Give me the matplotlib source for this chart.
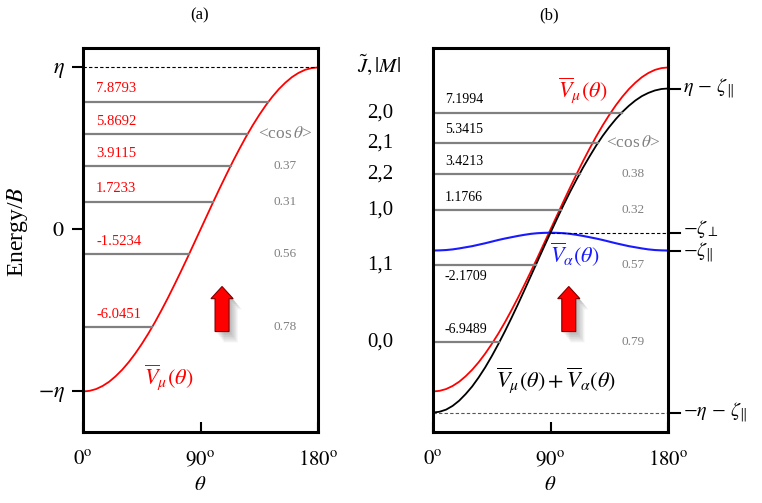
import numpy as np
import matplotlib.pyplot as plt
import matplotlib.transforms as mtransforms
from matplotlib.patches import FancyArrow

plt.rcParams['font.family'] = ['Liberation Serif', 'DejaVu Serif']
plt.rcParams['mathtext.fontset'] = 'stix'

# potential curves, theta in degrees (5 degree steps)
theta = list(range(0, 181, 5))
v_mu = [-10.00, -9.96, -9.85, -9.66, -9.40, -9.06, -8.66, -8.19, -7.66, -7.07,
        -6.43, -5.74, -5.00, -4.23, -3.42, -2.59, -1.74, -0.87, 0.00,
        0.87, 1.74, 2.59, 3.42, 4.23, 5.00, 5.74, 6.43, 7.07, 7.66,
        8.19, 8.66, 9.06, 9.40, 9.66, 9.85, 9.96, 10.00]
v_alpha = [-1.30, -1.29, -1.27, -1.23, -1.17, -1.10, -1.03, -0.94, -0.85, -0.75,
           -0.65, -0.56, -0.48, -0.40, -0.33, -0.27, -0.23, -0.21, -0.20,
           -0.21, -0.23, -0.27, -0.33, -0.40, -0.48, -0.56, -0.65, -0.75, -0.85,
           -0.94, -1.03, -1.10, -1.17, -1.23, -1.27, -1.29, -1.30]

# energy levels and <cos theta>
levels_a = [7.8793, 5.8692, 3.9115, 1.7233, -1.5234, -6.0451]
levels_b = [7.1994, 5.3415, 3.4213, 1.1766, -2.1709, -6.9489]
cos_a = [0.37, 0.31, 0.56, 0.78]
cos_b = [0.38, 0.32, 0.57, 0.79]
states = ['2,0', '2,1', '2,2', '1,0', '1,1', '0,0']

eta = 10.0
zeta_par = 1.30
zeta_perp = 0.20

theta = np.array(theta)
v_mu = np.array(v_mu)
v_sum = v_mu + np.array(v_alpha)

RED = '#ff0000'
BLUE = '#1a1aff'
GRAY = '#808080'
YLIM = (-12.5, 11.2)

fig = plt.figure(figsize=(7.62, 5.03), dpi=100)
ax_a = fig.add_axes([83 / 762, 71 / 503, 235 / 762, 384 / 503])
ax_b = fig.add_axes([433 / 762, 71 / 503, 235 / 762, 384 / 503])

for ax in (ax_a, ax_b):
    ax.set_xlim(0, 180)
    ax.set_ylim(*YLIM)
    for s in ax.spines.values():
        s.set_linewidth(2.2)
    ax.set_xticks([0, 90, 180])
    ax.set_xticklabels([r'$0^{\rm o}$', r'$90^{\rm o}$', r'$180^{\rm o}$'])
    ax.tick_params(axis='x', direction='in', length=7, width=1.5, pad=14, labelsize=15)
    ax.set_xlabel(r'$\theta$', fontsize=15, labelpad=4)


def arrow(ax, x):
    # soft grey shadow, then the red arrow
    for k in range(1, 7):
        ax.add_patch(FancyArrow(x + 1.1 * k, -6.3 - 0.11 * k, 0, 2.78, width=10.7,
                                head_width=17, head_length=0.75, length_includes_head=True,
                                color='#505050', alpha=0.08, lw=0))
    ax.add_patch(FancyArrow(x, -6.3, 0, 2.78, width=10.7, head_width=17, head_length=0.75,
                            length_includes_head=True, facecolor=RED, edgecolor='#7a0000', lw=0.8))


# ---- panel (a)
ax_a.plot(theta, v_mu, color=RED, lw=1.3)
ax_a.plot([0, 180], [eta, eta], color='black', lw=0.8, ls=(0, (3, 2)))
for i, e in enumerate(levels_a):
    x_end = np.interp(e, v_mu, theta)
    ax_a.plot([0, x_end], [e, e], color=GRAY, lw=1.6)
    ax_a.text(10, e + 0.8, f'{e:.4f}', color=RED, fontsize=10.5, ha='left', va='center')
ax_a.text(155, levels_a[1], r'<cos$\,\theta$>', color=GRAY, fontsize=12.5, ha='center', va='center')
for c, e in zip(cos_a, levels_a[2:]):
    ax_a.text(155, e, f'{c:.2f}', color=GRAY, fontsize=9.5, ha='center', va='center')
ax_a.text(66, -9.1, r'$\overline{V}_{\mu}(\theta)$', color=RED, fontsize=16, ha='center', va='center')
arrow(ax_a, 106.5)

ax_a.set_yticks([eta, 0, -eta])
ax_a.set_yticklabels([r'$\eta$', r'$0$', r'$-\eta$'])
ax_a.tick_params(axis='y', direction='out', length=8, width=1.5, pad=5, labelsize=16)

# ---- panel (b)
ax_b.plot(theta, v_mu, color=RED, lw=1.3)
ax_b.plot(theta, v_alpha, color=BLUE, lw=1.5)
ax_b.plot(theta, v_sum, color='black', lw=1.3)
ax_b.plot([90, 180], [-zeta_perp, -zeta_perp], color='black', lw=0.8, ls=(0, (3, 2)))
ax_b.plot([0, 180], [-eta - zeta_par, -eta - zeta_par], color='#555555', lw=0.8, ls=(0, (3, 2)))
for i, e in enumerate(levels_b):
    x_end = np.interp(e, v_sum, theta)
    ax_b.plot([0, x_end], [e, e], color=GRAY, lw=1.6)
    dy = -0.75 if i == 4 else 0.8
    ax_b.text(9, e + dy, f'{e:.4f}', color='black', fontsize=10, ha='left', va='center')
ax_b.text(153, levels_b[1], r'<cos$\,\theta$>', color=GRAY, fontsize=12.5, ha='center', va='center')
for c, e in zip(cos_b, levels_b[2:]):
    ax_b.text(153, e, f'{c:.2f}', color=GRAY, fontsize=9.5, ha='center', va='center')
ax_b.text(115, 8.6, r'$\overline{V}_{\mu}(\theta)$', color=RED, fontsize=16, ha='center', va='center')
ax_b.text(109, -1.55, r'$\overline{V}_{\alpha}(\theta)$', color=BLUE, fontsize=16, ha='center', va='center')
ax_b.text(94, -9.3, r'$\overline{V}_{\mu}(\theta)+\overline{V}_{\alpha}(\theta)$', color='black',
          fontsize=16, ha='center', va='center')
arrow(ax_b, 104)
ax_b.set_yticks([])

right_labels = [(eta - zeta_par, 0.0, r'$\eta\,-\,\zeta_{\Vert}$'),
                (-zeta_perp, 0.25, r'$-\zeta_{\perp}$'),
                (-zeta_par, -0.15, r'$-\zeta_{\Vert}$'),
                (-eta - zeta_par, 0.0, r'$-\eta\,-\,\zeta_{\Vert}$')]
for y, nudge, lab in right_labels:
    ax_b.plot([180, 189], [y, y], color='black', lw=1.5, clip_on=False)
    ax_b.text(191.5, y + nudge, lab, fontsize=14.5, ha='left', va='center')

# ---- middle column of quantum numbers
trans = mtransforms.blended_transform_factory(fig.transFigure, ax_b.transData)
for lab, e in zip(states, levels_b):
    fig.text(0.499, e, lab, transform=trans, fontsize=15, ha='center', va='center')
fig.text(0.497, 0.871, r'$\tilde{J},|M|$', fontsize=15, ha='center', va='center')

fig.text(18 / 762, 0.54, r'Energy/$B$', fontsize=17, rotation=90, ha='center', va='center')
fig.text(200 / 762, 0.97, '(a)', fontsize=12, ha='center', va='center')
fig.text(549 / 762, 0.97, '(b)', fontsize=12, ha='center', va='center')

fig.savefig('out.png', dpi=100)
